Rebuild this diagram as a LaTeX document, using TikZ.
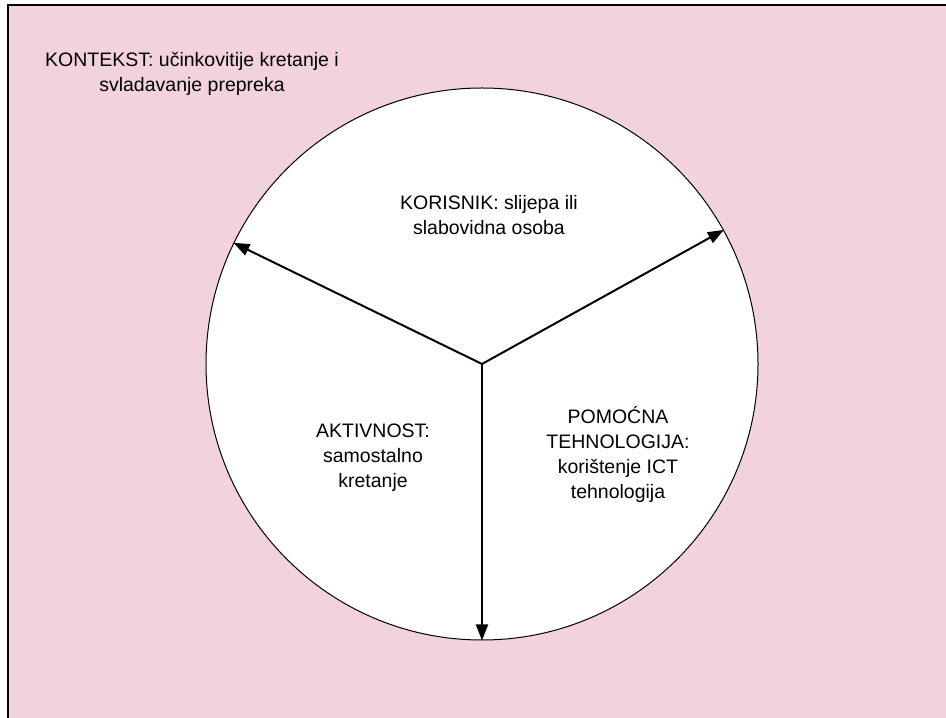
\documentclass[tikz,border=0pt]{standalone}
\usepackage{fontspec}
\setmainfont{Liberation Sans}
\usetikzlibrary{arrows.meta}
\definecolor{kontekst}{RGB}{242,211,220}

\begin{document}
\begin{tikzpicture}[x=1pt, y=1pt, txt/.style = {align=center, font=\fontsize{19.5}{25}\selectfont}, arr/.style = {-{Triangle[length=16pt, width=12pt]}, line width=2pt}]
      \useasboundingbox (0,0) rectangle (946,718);
      \clip (0,0) rectangle (946,718);
      \draw[fill=kontekst, line width=2pt] (8,712.5) rectangle (960,-10);
      \node[draw, circle, fill=white, line width=1pt, minimum size=552pt, inner sep=0pt] (kolo) at (482,354) {};
      \node[txt] (kontekst) at (192,644) {KONTEKST: učinkovitije kretanje i\\svladavanje prepreka};
      \node[txt] (korisnik) at (489,503) {KORISNIK: slijepa ili\\slabovidna osoba};
      \node[txt] (aktivnost) at (373,260) {AKTIVNOST:\\samostalno\\kretanje};
      \node[txt] (tehnologija) at (618,263) {POMOĆNA\\TEHNOLOGIJA:\\korištenje ICT\\tehnologija};
      \draw[arr] (kolo.center) -- (kolo.154.5);
      \draw[arr] (kolo.center) -- (kolo.29);
      \draw[arr] (kolo.center) -- (kolo.270);
    \end{tikzpicture}
\end{document}
